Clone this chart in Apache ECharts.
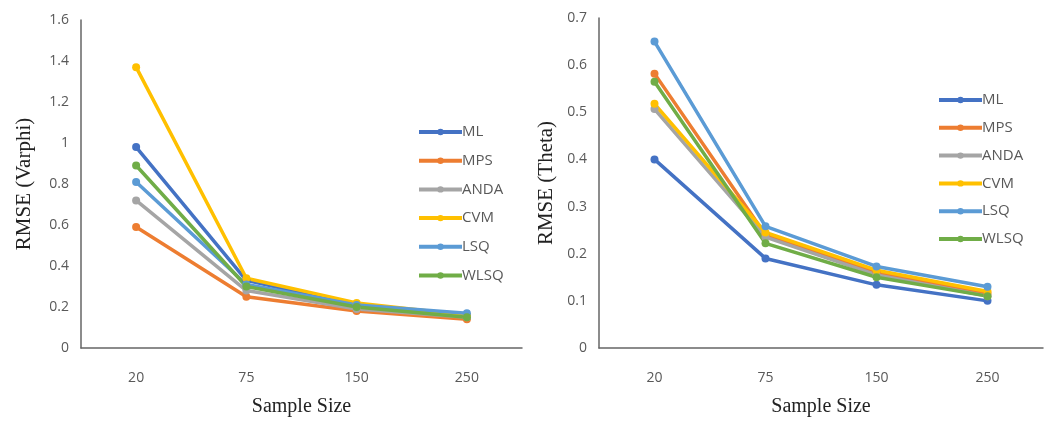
<!DOCTYPE html>
<html><head><meta charset="utf-8">
<script src="https://cdn.jsdelivr.net/npm/echarts@6/dist/echarts.min.js"></script>
<style>html,body{margin:0;padding:0;background:#fff}#c{width:1049px;height:422px}</style>
</head><body><div id="c"></div>
<script>
const categories = ['20', '75', '150', '250'];
const methods = ['ML', 'MPS', 'ANDA', 'CVM', 'LSQ', 'WLSQ'];
const colors = ['#4472C4', '#ED7D31', '#A5A5A5', '#FFC000', '#5B9BD5', '#70AD47'];
// RMSE (Varphi)
const varphiML   = [0.98, 0.33, 0.21, 0.16];
const varphiMPS  = [0.59, 0.25, 0.18, 0.14];
const varphiANDA = [0.72, 0.28, 0.19, 0.15];
const varphiCVM  = [1.37, 0.34, 0.22, 0.16];
const varphiLSQ  = [0.81, 0.31, 0.21, 0.17];
const varphiWLSQ = [0.89, 0.30, 0.20, 0.15];
// RMSE (Theta)
const thetaML   = [0.40, 0.19, 0.134, 0.10];
const thetaMPS  = [0.582, 0.24, 0.16, 0.115];
const thetaANDA = [0.507, 0.235, 0.155, 0.11];
const thetaCVM  = [0.518, 0.245, 0.165, 0.12];
const thetaLSQ  = [0.65, 0.258, 0.173, 0.13];
const thetaWLSQ = [0.565, 0.222, 0.15, 0.11];
const yTicksVarphi = { min: 0, max: 1.6, interval: 0.2 };
const yTicksTheta = { min: 0, max: 0.7, interval: 0.1 };

const varphi = [varphiML, varphiMPS, varphiANDA, varphiCVM, varphiLSQ, varphiWLSQ];
const theta = [thetaML, thetaMPS, thetaANDA, thetaCVM, thetaLSQ, thetaWLSQ];

const labelFont = { color: '#595959', fontSize: 14, fontFamily: 'Open Sans' };
const xNameFont = { color: '#222', fontSize: 20, fontFamily: 'Liberation Serif' };
const yNameFont = { color: '#222', fontSize: 21, fontFamily: 'Liberation Serif' };
const axisLine = { show: true, lineStyle: { color: '#666', width: 1.5 } };

function xAx(idx) {
  return {
    type: 'category', gridIndex: idx, data: categories, boundaryGap: true,
    axisLine: axisLine, axisTick: { show: false },
    axisLabel: Object.assign({ margin: 23 }, labelFont),
    name: 'Sample Size', nameLocation: 'middle', nameGap: 49, nameTextStyle: xNameFont
  };
}
function yAx(idx, t, name, gap) {
  return {
    type: 'value', gridIndex: idx, min: t.min, max: t.max, interval: t.interval,
    axisLine: axisLine, axisTick: { show: false }, splitLine: { show: false },
    axisLabel: Object.assign({ margin: 12 }, labelFont),
    name: name, nameLocation: 'middle', nameGap: gap, nameTextStyle: yNameFont
  };
}
const series = [];
[varphi, theta].forEach((set, gi) => {
  set.forEach((vals, i) => {
    series.push({
      name: methods[i], type: 'line', xAxisIndex: gi, yAxisIndex: gi, data: vals,
      symbol: 'circle', symbolSize: 8, showSymbol: true,
      lineStyle: { color: colors[i], width: 3.5 },
      itemStyle: { color: colors[i] }
    });
  });
});
const legendBase = {
  orient: 'vertical', data: methods, itemWidth: 43, itemHeight: 8,
  lineStyle: { width: 4 },
  textStyle: Object.assign({}, labelFont, { fontSize: 15, lineHeight: 15, padding: [0, 0, 0, -5] }),
  selectedMode: false
};
const chart = echarts.init(document.getElementById('c'));
chart.setOption({
  animation: false,
  color: colors,
  grid: [
    { left: 81, top: 20, width: 441, height: 328 },
    { left: 599, top: 18, width: 444, height: 330 }
  ],
  xAxis: [xAx(0), xAx(1)],
  yAxis: [yAx(0, yTicksVarphi, 'RMSE (Varphi)', 46), yAx(1, yTicksTheta, 'RMSE (Theta)', 42)],
  legend: [
    Object.assign({}, legendBase, { left: 412, top: 119.5, itemGap: 13.7 }),
    Object.assign({}, legendBase, { left: 932, top: 87.5, itemGap: 12.8 })
  ],
  series: series
});
</script></body></html>
